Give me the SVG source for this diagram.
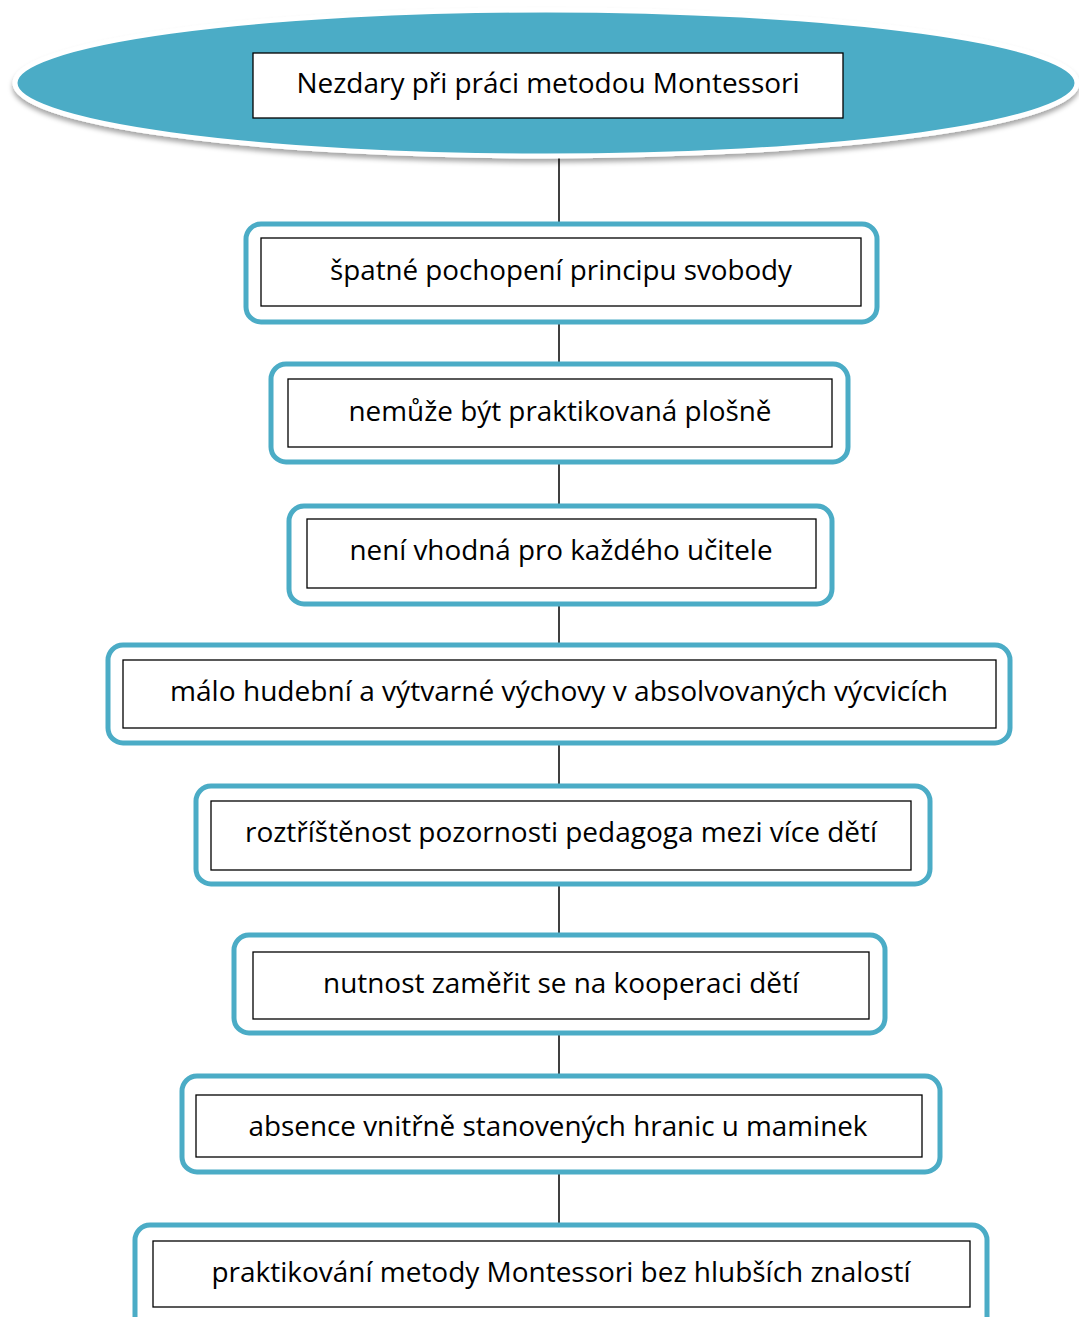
<svg xmlns="http://www.w3.org/2000/svg" width="1079" height="1317" viewBox="0 0 1079 1317">
<defs>
<filter id="sh" x="-5%" y="-10%" width="110%" height="130%">
<feDropShadow dx="0" dy="4" stdDeviation="2.5" flood-color="#000" flood-opacity="0.35"/>
</filter>
</defs>
<style>
.outer{fill:#fff;stroke:#4bacc6;stroke-width:5}
.inner{fill:#fff;stroke:#000;stroke-width:1.3}
.t{font-family:"Open Sans","Liberation Sans",sans-serif;font-size:27px;fill:#000;text-anchor:middle}
.c{stroke:#000;stroke-width:1.5;fill:none}
</style>
<rect width="1079" height="1317" fill="#fff"/>
<g id="connectors">
<line class="c" x1="559" y1="155" x2="559" y2="224"/>
<line class="c" x1="559" y1="322" x2="559" y2="364"/>
<line class="c" x1="559" y1="462" x2="559" y2="506"/>
<line class="c" x1="559" y1="604" x2="559" y2="645"/>
<line class="c" x1="559" y1="743" x2="559" y2="786"/>
<line class="c" x1="559" y1="884" x2="559" y2="935"/>
<line class="c" x1="559" y1="1033" x2="559" y2="1076"/>
<line class="c" x1="559" y1="1172" x2="559" y2="1225"/>
</g>
<g id="root">
<ellipse cx="546" cy="83" rx="531" ry="73" fill="#4bacc6" stroke="#fff" stroke-width="5" filter="url(#sh)"/>
<rect class="inner" x="253" y="53" width="590" height="65"/>
<text class="t" x="548" y="93" textLength="503" lengthAdjust="spacingAndGlyphs">Nezdary při práci metodou Montessori</text>
</g>
<g id="n1">
<rect class="outer" x="246" y="224" width="631" height="98" rx="15"/>
<rect class="inner" x="261" y="238" width="600" height="68"/>
<text class="t" x="561" y="280" textLength="462" lengthAdjust="spacingAndGlyphs">špatné pochopení principu svobody</text>
</g>
<g id="n2">
<rect class="outer" x="271" y="364" width="577" height="98" rx="15"/>
<rect class="inner" x="288" y="379" width="544" height="68"/>
<text class="t" x="560" y="421" textLength="423" lengthAdjust="spacingAndGlyphs">nemůže být praktikovaná plošně</text>
</g>
<g id="n3">
<rect class="outer" x="289" y="506" width="543" height="98" rx="15"/>
<rect class="inner" x="307" y="519" width="509" height="69"/>
<text class="t" x="561" y="560" textLength="423" lengthAdjust="spacingAndGlyphs">není vhodná pro každého učitele</text>
</g>
<g id="n4">
<rect class="outer" x="108" y="645" width="902" height="98" rx="15"/>
<rect class="inner" x="123" y="660" width="873" height="68"/>
<text class="t" x="559" y="701" textLength="778" lengthAdjust="spacingAndGlyphs">málo hudební a výtvarné výchovy v absolvovaných výcvicích</text>
</g>
<g id="n5">
<rect class="outer" x="196" y="786" width="734" height="98" rx="15"/>
<rect class="inner" x="211" y="801" width="700" height="69"/>
<text class="t" x="561" y="842" textLength="632" lengthAdjust="spacingAndGlyphs">roztříštěnost pozornosti pedagoga mezi více dětí</text>
</g>
<g id="n6">
<rect class="outer" x="234" y="935" width="651" height="98" rx="15"/>
<rect class="inner" x="253" y="952" width="616" height="67"/>
<text class="t" x="561" y="993" textLength="476" lengthAdjust="spacingAndGlyphs">nutnost zaměřit se na kooperaci dětí</text>
</g>
<g id="n7">
<rect class="outer" x="182" y="1076" width="758" height="96" rx="15"/>
<rect class="inner" x="196" y="1095" width="726" height="62"/>
<text class="t" x="558" y="1136" textLength="619" lengthAdjust="spacingAndGlyphs">absence vnitřně stanovených hranic u maminek</text>
</g>
<g id="n8">
<rect class="outer" x="135" y="1225" width="852" height="110" rx="15"/>
<rect class="inner" x="153" y="1241" width="817" height="66"/>
<text class="t" x="561" y="1282" textLength="699" lengthAdjust="spacingAndGlyphs">praktikování metody Montessori bez hlubších znalostí</text>
</g>
</svg>
